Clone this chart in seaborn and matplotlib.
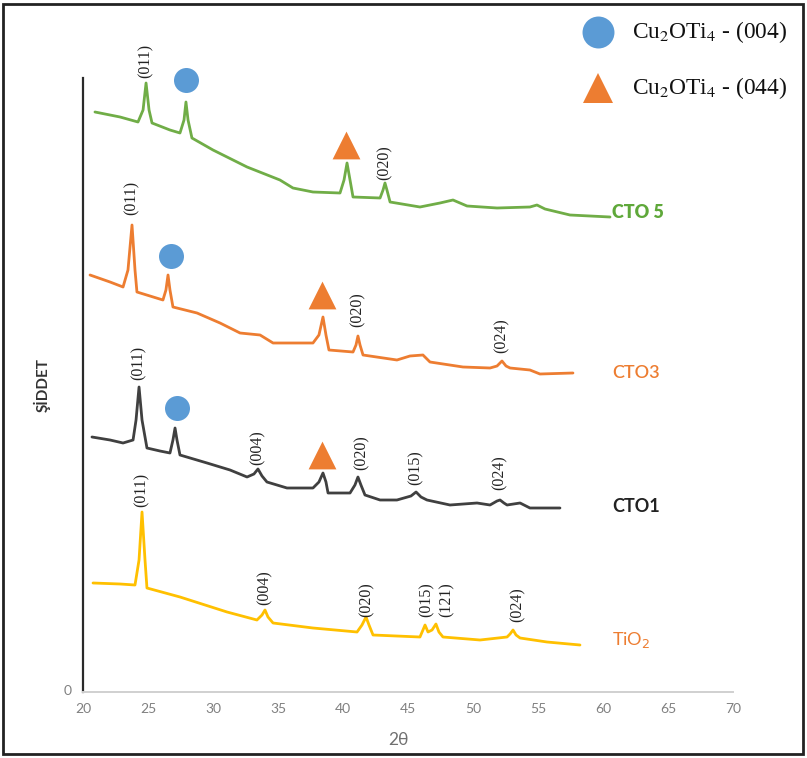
import matplotlib
matplotlib.use("Agg")
import matplotlib.pyplot as plt
from matplotlib.lines import Line2D
from matplotlib.patches import Rectangle
import seaborn as sns
import pandas as pd

# XRD patterns (2θ in degrees, intensity in arbitrary units, stacked)
cto5_2theta = [20.92, 22.85, 24.23, 24.62, 24.85, 25.08, 25.31, 26.69, 27.46, 27.77, 27.92, 28.08,
               28.38, 30.0, 32.62, 35.15, 36.15, 37.69, 39.77, 40.08, 40.31, 40.54, 40.77, 42.85,
               43.08, 43.23, 43.38, 43.62, 45.92, 47.46, 48.46, 49.54, 51.85, 54.38, 54.92, 55.54,
               57.46, 60.54]
cto5_int = [578, 573, 568, 580, 607, 580, 567, 560, 557, 570, 588, 570,
            552, 540, 523, 510, 502, 498, 497, 510, 527, 510, 493, 492,
            500, 507, 500, 488, 483, 487, 490, 484, 482, 483, 485, 481,
            475, 473]

cto3_2theta = [20.54, 22.08, 23.08, 23.46, 23.77, 24.0, 24.15, 25.15, 26.15, 26.38, 26.54, 26.69,
               26.92, 28.77, 30.54, 32.08, 33.62, 34.62, 37.69, 38.15, 38.46, 38.69, 38.92, 40.77,
               41.0, 41.15, 41.31, 41.54, 44.15, 45.15, 46.15, 46.69, 49.23, 51.31, 51.85, 52.23,
               52.54, 52.85, 54.38, 55.15, 57.69]
cto3_int = [415, 408, 403, 420, 465, 420, 398, 394, 390, 400, 415, 400,
            383, 377, 367, 357, 355, 347, 347, 355, 373, 355, 340, 338,
            345, 354, 345, 335, 330, 334, 335, 328, 323, 322, 324, 329,
            324, 322, 320, 316, 317]

cto1_2theta = [20.69, 22.08, 23.08, 23.85, 24.08, 24.31, 24.54, 24.92, 25.92, 26.69, 26.92, 27.08,
               27.23, 27.46, 29.54, 31.31, 32.62, 33.15, 33.46, 33.77, 34.15, 35.69, 37.69, 38.15,
               38.46, 38.69, 38.85, 40.54, 40.92, 41.15, 41.38, 41.69, 42.85, 44.15, 45.23, 45.62,
               46.0, 46.46, 48.23, 50.31, 51.31, 51.85, 52.08, 52.38, 52.62, 53.62, 54.38, 56.69]
cto1_int = [253, 250, 247, 250, 270, 303, 270, 242, 239, 237, 250, 262,
            250, 235, 227, 220, 213, 216, 221, 214, 208, 202, 202, 208,
            217, 208, 197, 197, 205, 213, 205, 195, 190, 190, 194, 198,
            193, 190, 185, 187, 185, 189, 190, 187, 185, 187, 182, 182]

tio2_2theta = [20.77, 22.85, 24.0, 24.31, 24.54, 24.77, 24.92, 27.46, 31.08, 33.38, 33.77, 34.0,
               34.23, 34.62, 37.69, 41.08, 41.46, 41.77, 42.0, 42.31, 45.92, 46.15, 46.31, 46.54,
               46.85, 47.15, 47.38, 47.69, 50.54, 52.62, 52.85, 53.08, 53.31, 53.62, 55.69, 58.23]
tio2_int = [107, 106, 105, 130, 178, 130, 102, 93, 78, 70, 75, 80,
            73, 67, 62, 58, 65, 73, 65, 55, 53, 60, 65, 58,
            60, 66, 58, 53, 50, 53, 56, 60, 55, 52, 48, 45]

samples = ["CTO 5", "CTO3", "CTO1", "TiO$_2$"]
colors = {"CTO 5": "#70AD47", "CTO3": "#ED7D31", "CTO1": "#404040", "TiO$_2$": "#FFC000"}

# Miller index labels: (2θ, label base intensity, text)
hkl_labels = [
    (24.85, 612, "(011)"), (43.23, 510, "(020)"),
    (23.77, 475, "(011)"), (41.15, 363, "(020)"), (52.23, 337, "(024)"),
    (24.31, 310, "(011)"), (33.46, 225, "(004)"), (41.40, 220, "(020)"),
    (45.62, 205, "(015)"), (52.08, 200, "(024)"),
    (24.54, 183, "(011)"), (34.00, 85, "(004)"), (41.85, 73, "(020)"),
    (46.46, 73, "(015)"), (48.00, 73, "(121)"), (53.40, 68, "(024)"),
]

# Cu2OTi4 phase markers above peaks
phase004_2theta = [27.92, 26.77, 27.23]
phase004_int = [610, 434, 282]
phase044_2theta = [40.23, 38.38, 38.38]
phase044_int = [545, 395, 235]

# Sample name positions at the right end of each pattern
name_2theta = [60.69, 60.69, 60.69, 60.69]
name_int = [477, 317, 183, 50]
name_weight = ["heavy", "semibold", "bold", "normal"]
name_color = ["#5FA83A", "#ED7D31", "#222222", "#ED7D31"]

legend_labels = ["Cu$_2$OTi$_4$ - (004)", "Cu$_2$OTi$_4$ - (044)"]

df = pd.concat([
    pd.DataFrame({"2θ": cto5_2theta, "I": cto5_int, "sample": samples[0]}),
    pd.DataFrame({"2θ": cto3_2theta, "I": cto3_int, "sample": samples[1]}),
    pd.DataFrame({"2θ": cto1_2theta, "I": cto1_int, "sample": samples[2]}),
    pd.DataFrame({"2θ": tio2_2theta, "I": tio2_int, "sample": samples[3]}),
], ignore_index=True)

sns.set_style("white")
plt.rcParams["font.family"] = ["Lato", "DejaVu Sans"]

W, H = 807, 758
fig = plt.figure(figsize=(W / 100, H / 100), dpi=100)
ax = fig.add_axes([83 / W, (H - 692) / H, 650 / W, 614 / H])

sns.lineplot(data=df, x="2θ", y="I", hue="sample", palette=colors, sort=False,
             estimator=None, legend=False, linewidth=2.0, ax=ax)

ax.scatter(phase004_2theta, phase004_int, s=18 ** 2, color="#5B9BD5", marker="o",
           linewidths=0, zorder=4, clip_on=False)
ax.scatter(phase044_2theta, phase044_int, s=20 ** 2, color="#ED7D31", marker="^",
           linewidths=0, zorder=4, clip_on=False)

for x, y, t in hkl_labels:
    ax.text(x, y, t, rotation=90, ha="center", va="bottom", fontsize=11.5,
            family="Liberation Serif", color="#222222")

for x, y, name, w, c in zip(name_2theta, name_int, samples, name_weight, name_color):
    ax.text(x, y, name, ha="left", va="center", fontsize=13, fontweight=w, color=c,
            math_fontfamily="dejavusans")

ax.set_xlim(20, 70)
ax.set_ylim(-2, 612)
ax.set_xticks(range(20, 71, 5))
ax.set_yticks([0])
ax.tick_params(axis="both", length=0, labelsize=10, colors="#808080", pad=8)
ax.set_xlabel("")
ax.set_ylabel("")
for side in ["top", "right"]:
    ax.spines[side].set_visible(False)
ax.spines["left"].set_color("#2a2a2a")
ax.spines["left"].set_linewidth(1.6)
ax.spines["bottom"].set_color("#d0d0d0")
ax.spines["bottom"].set_linewidth(1.4)

fig.text(398 / W, 1 - 740 / H, "2θ", ha="center", va="center", fontsize=12.5, color="#707070")
fig.text(42 / W, 1 - 385 / H, "ŞİDDET", ha="center", va="center", rotation=90,
         fontsize=11, fontweight="bold", color="#333333")

# Phase legend in the upper right corner
fig.add_artist(Line2D([598 / W], [1 - 32 / H], marker="o", markersize=23, color="#5B9BD5",
                      markeredgewidth=0, linestyle="none", transform=fig.transFigure))
fig.add_artist(Line2D([598 / W], [1 - 88 / H], marker="^", markersize=21, color="#ED7D31",
                      markeredgewidth=0, linestyle="none", transform=fig.transFigure))
for yy, lab in zip([32, 88], legend_labels):
    fig.text(632 / W, 1 - yy / H, lab, ha="left", va="center", fontsize=16.8,
             family="Liberation Serif", math_fontfamily="stix", color="#111111")

fig.add_artist(Rectangle((3 / W, 4 / H), 800 / W, 750 / H, transform=fig.transFigure,
                         fill=False, edgecolor="#222222", linewidth=2))

fig.savefig("out.png", dpi=100)
